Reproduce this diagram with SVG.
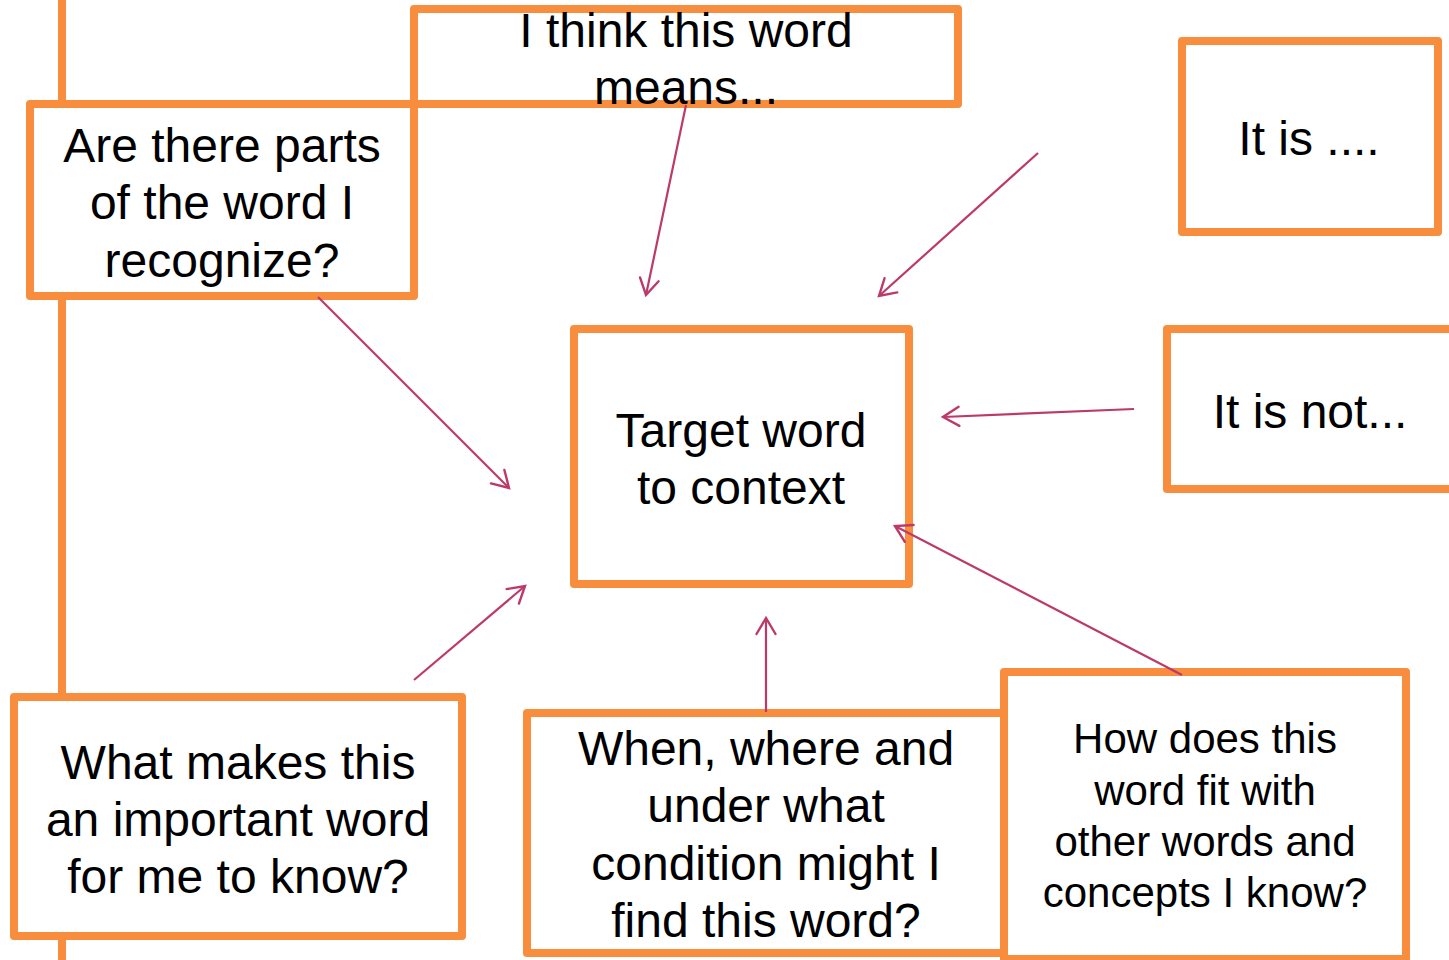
<svg xmlns="http://www.w3.org/2000/svg" width="1449" height="960" viewBox="0 0 1449 960">
<style>
.box{fill:#ffffff;stroke:#F98D3E;stroke-width:8;stroke-linejoin:round}
.t{font-family:"Liberation Sans",Arial,sans-serif;font-size:48px;fill:#000;text-anchor:middle}
.s{font-size:42px}
.c{stroke:#BC3A69;stroke-width:2.2;fill:none;marker-end:url(#ah)}
</style>
<defs>
<marker id="ah" markerUnits="userSpaceOnUse" viewBox="-20 -12 24 24" refX="0" refY="0" markerWidth="24" markerHeight="24" orient="auto">
<path d="M-16,-9.5 L0,0 L-16,9.5" fill="none" stroke="#BC3A69" stroke-width="2.4" stroke-linecap="round" stroke-linejoin="miter"/>
</marker>
</defs>
<rect x="0" y="0" width="1449" height="960" fill="#ffffff"/>
<line x1="62" y1="0" x2="62" y2="960" stroke="#F98D3E" stroke-width="8"/>
<g id="n-means">
<rect class="box" x="414" y="9" width="544" height="95"/>
<text class="t" x="686" y="47">I think this word</text>
<text class="t" x="686" y="104">means...</text>
</g>
<g id="n-parts">
<rect class="box" x="30" y="104" width="384" height="192"/>
<text class="t" x="222" y="162">Are there parts</text>
<text class="t" x="222" y="219">of the word I</text>
<text class="t" x="222" y="277">recognize?</text>
</g>
<g id="n-itis">
<rect class="box" x="1182" y="41" width="256" height="191"/>
<text class="t" x="1309" y="155">It is ....</text>
</g>
<g id="n-target">
<rect class="box" x="574" y="329" width="335" height="255"/>
<text class="t" x="741" y="447">Target word</text>
<text class="t" x="741" y="504">to context</text>
</g>
<g id="n-isnot">
<rect class="box" x="1167" y="329" width="300" height="160"/>
<text class="t" x="1310" y="428">It is not...</text>
</g>
<g id="n-important">
<rect class="box" x="14" y="697" width="448" height="239"/>
<text class="t" x="238" y="779">What makes this</text>
<text class="t" x="238" y="836">an important word</text>
<text class="t" x="238" y="893">for me to know?</text>
</g>
<g id="n-when">
<rect class="box" x="527" y="713" width="477" height="240"/>
<text class="t" x="766" y="765">When, where and</text>
<text class="t" x="766" y="822">under what</text>
<text class="t" x="766" y="880">condition might I</text>
<text class="t" x="766" y="937">find this word?</text>
</g>
<g id="n-fit">
<rect class="box" x="1004" y="672" width="402" height="287"/>
<text class="t s" x="1205" y="753">How does this</text>
<text class="t s" x="1205" y="805">word fit with</text>
<text class="t s" x="1205" y="856">other words and</text>
<text class="t s" x="1205" y="907">concepts I know?</text>
</g>
<g id="connectors">
<line class="c" x1="686" y1="105" x2="646" y2="295"/>
<line class="c" x1="1038" y1="153" x2="879" y2="296"/>
<line class="c" x1="318" y1="297" x2="509" y2="488"/>
<line class="c" x1="1134" y1="409" x2="943" y2="417"/>
<line class="c" x1="414" y1="680" x2="525" y2="586"/>
<line class="c" x1="766" y1="712" x2="766" y2="618"/>
<line class="c" x1="1182" y1="675" x2="895" y2="526"/>
</g>
</svg>
